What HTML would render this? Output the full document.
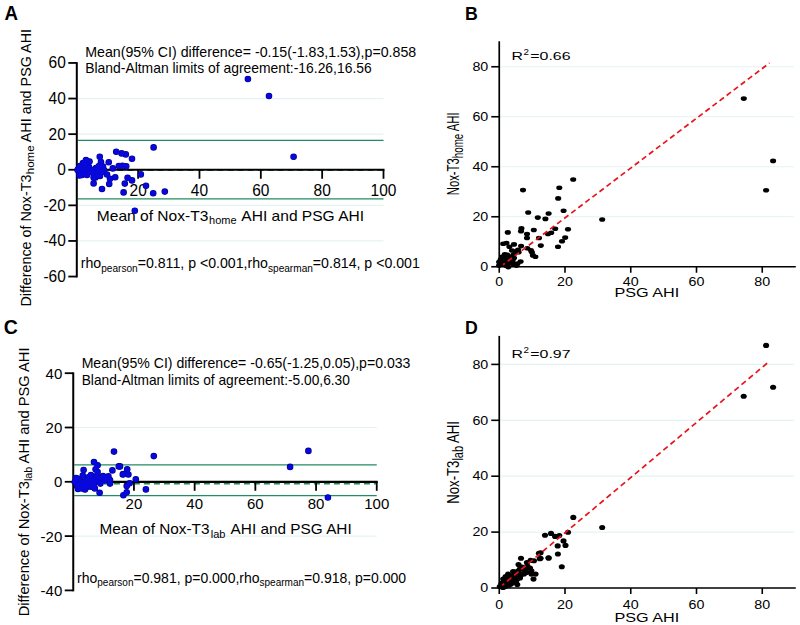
<!DOCTYPE html>
<html><head><meta charset="utf-8"><style>html,body{margin:0;padding:0;background:#fff;width:800px;height:625px;overflow:hidden;}svg{display:block;}text{font-family:"Liberation Sans", sans-serif;}</style></head><body>
<svg width="800" height="625" viewBox="0 0 800 625" font-family="&quot;Liberation Sans&quot;, sans-serif" fill="#000">
<rect width="800" height="625" fill="#fff"/>
<line x1="77.80" y1="98.55" x2="383.50" y2="98.55" stroke="#e3f3f3" stroke-width="1.2" />
<line x1="77.80" y1="134.15" x2="383.50" y2="134.15" stroke="#e3f3f3" stroke-width="1.2" />
<line x1="77.80" y1="205.35" x2="383.50" y2="205.35" stroke="#e3f3f3" stroke-width="1.2" />
<line x1="77.80" y1="240.95" x2="383.50" y2="240.95" stroke="#e3f3f3" stroke-width="1.2" />
<line x1="77.80" y1="140.47" x2="383.50" y2="140.47" stroke="#228c62" stroke-width="1.3" />
<line x1="77.80" y1="198.89" x2="383.50" y2="198.89" stroke="#228c62" stroke-width="1.3" />
<line x1="77.45" y1="170.02" x2="383.50" y2="170.02" stroke="#14905c" stroke-width="2.1" stroke-dasharray="6 4"/>
<line x1="76.80" y1="62.15" x2="76.80" y2="277.45" stroke="#000" stroke-width="2" />
<line x1="75.80" y1="169.75" x2="384.50" y2="169.75" stroke="#000" stroke-width="2.2" />
<line x1="68.30" y1="62.95" x2="76.80" y2="62.95" stroke="#000" stroke-width="1.8" />
<text transform="translate(65.80,68.45) scale(1,1.1)" font-size="15.5" text-anchor="end">60</text>
<line x1="68.30" y1="98.55" x2="76.80" y2="98.55" stroke="#000" stroke-width="1.8" />
<text transform="translate(65.80,104.05) scale(1,1.1)" font-size="15.5" text-anchor="end">40</text>
<line x1="68.30" y1="134.15" x2="76.80" y2="134.15" stroke="#000" stroke-width="1.8" />
<text transform="translate(65.80,139.65) scale(1,1.1)" font-size="15.5" text-anchor="end">20</text>
<line x1="68.30" y1="169.75" x2="76.80" y2="169.75" stroke="#000" stroke-width="1.8" />
<text transform="translate(65.80,175.25) scale(1,1.1)" font-size="15.5" text-anchor="end">0</text>
<line x1="68.30" y1="205.35" x2="76.80" y2="205.35" stroke="#000" stroke-width="1.8" />
<text transform="translate(65.80,210.85) scale(1,1.1)" font-size="15.5" text-anchor="end">-20</text>
<line x1="68.30" y1="240.95" x2="76.80" y2="240.95" stroke="#000" stroke-width="1.8" />
<text transform="translate(65.80,246.45) scale(1,1.1)" font-size="15.5" text-anchor="end">-40</text>
<line x1="68.30" y1="276.55" x2="76.80" y2="276.55" stroke="#000" stroke-width="1.8" />
<text transform="translate(65.80,282.05) scale(1,1.1)" font-size="15.5" text-anchor="end">-60</text>
<line x1="138.14" y1="169.75" x2="138.14" y2="178.75" stroke="#000" stroke-width="1.8" />
<text transform="translate(138.14,196.30) scale(1,1.1)" font-size="15.5" text-anchor="middle">20</text>
<line x1="199.48" y1="169.75" x2="199.48" y2="178.75" stroke="#000" stroke-width="1.8" />
<text transform="translate(199.48,196.30) scale(1,1.1)" font-size="15.5" text-anchor="middle">40</text>
<line x1="260.82" y1="169.75" x2="260.82" y2="178.75" stroke="#000" stroke-width="1.8" />
<text transform="translate(260.82,196.30) scale(1,1.1)" font-size="15.5" text-anchor="middle">60</text>
<line x1="322.16" y1="169.75" x2="322.16" y2="178.75" stroke="#000" stroke-width="1.8" />
<text transform="translate(322.16,196.30) scale(1,1.1)" font-size="15.5" text-anchor="middle">80</text>
<line x1="383.50" y1="169.75" x2="383.50" y2="178.75" stroke="#000" stroke-width="1.8" />
<text transform="translate(383.50,196.30) scale(1,1.1)" font-size="15.5" text-anchor="middle">100</text>
<line x1="74.25" y1="427.50" x2="376.75" y2="427.50" stroke="#e3f3f3" stroke-width="1.2" />
<line x1="74.25" y1="536.10" x2="376.75" y2="536.10" stroke="#e3f3f3" stroke-width="1.2" />
<line x1="74.25" y1="464.90" x2="376.75" y2="464.90" stroke="#228c62" stroke-width="1.3" />
<line x1="74.25" y1="495.57" x2="376.75" y2="495.57" stroke="#228c62" stroke-width="1.3" />
<line x1="73.90" y1="483.56" x2="376.75" y2="483.56" stroke="#14905c" stroke-width="2.1" stroke-dasharray="6 4"/>
<line x1="73.25" y1="372.40" x2="73.25" y2="591.30" stroke="#000" stroke-width="2" />
<line x1="72.25" y1="481.80" x2="377.75" y2="481.80" stroke="#000" stroke-width="2.2" />
<line x1="64.75" y1="373.20" x2="73.25" y2="373.20" stroke="#000" stroke-width="1.8" />
<text transform="translate(62.25,378.60) scale(1,1.0)" font-size="15.0" text-anchor="end">40</text>
<line x1="64.75" y1="427.50" x2="73.25" y2="427.50" stroke="#000" stroke-width="1.8" />
<text transform="translate(62.25,432.90) scale(1,1.0)" font-size="15.0" text-anchor="end">20</text>
<line x1="64.75" y1="481.80" x2="73.25" y2="481.80" stroke="#000" stroke-width="1.8" />
<text transform="translate(62.25,487.20) scale(1,1.0)" font-size="15.0" text-anchor="end">0</text>
<line x1="64.75" y1="536.10" x2="73.25" y2="536.10" stroke="#000" stroke-width="1.8" />
<text transform="translate(62.25,541.50) scale(1,1.0)" font-size="15.0" text-anchor="end">-20</text>
<line x1="64.75" y1="590.40" x2="73.25" y2="590.40" stroke="#000" stroke-width="1.8" />
<text transform="translate(62.25,595.80) scale(1,1.0)" font-size="15.0" text-anchor="end">-40</text>
<line x1="133.95" y1="481.80" x2="133.95" y2="490.80" stroke="#000" stroke-width="1.8" />
<text transform="translate(133.95,508.80) scale(1,1.0)" font-size="15.0" text-anchor="middle">20</text>
<line x1="194.65" y1="481.80" x2="194.65" y2="490.80" stroke="#000" stroke-width="1.8" />
<text transform="translate(194.65,508.80) scale(1,1.0)" font-size="15.0" text-anchor="middle">40</text>
<line x1="255.35" y1="481.80" x2="255.35" y2="490.80" stroke="#000" stroke-width="1.8" />
<text transform="translate(255.35,508.80) scale(1,1.0)" font-size="15.0" text-anchor="middle">60</text>
<line x1="316.05" y1="481.80" x2="316.05" y2="490.80" stroke="#000" stroke-width="1.8" />
<text transform="translate(316.05,508.80) scale(1,1.0)" font-size="15.0" text-anchor="middle">80</text>
<line x1="376.75" y1="481.80" x2="376.75" y2="490.80" stroke="#000" stroke-width="1.8" />
<text transform="translate(376.75,508.80) scale(1,1.0)" font-size="15.0" text-anchor="middle">100</text>
<line x1="500.25" y1="216.75" x2="794.00" y2="216.75" stroke="#e3f3f3" stroke-width="1.2" />
<line x1="500.25" y1="166.75" x2="794.00" y2="166.75" stroke="#e3f3f3" stroke-width="1.2" />
<line x1="500.25" y1="116.75" x2="794.00" y2="116.75" stroke="#e3f3f3" stroke-width="1.2" />
<line x1="500.25" y1="66.75" x2="794.00" y2="66.75" stroke="#e3f3f3" stroke-width="1.2" />
<line x1="499.25" y1="41.25" x2="499.25" y2="267.55" stroke="#000" stroke-width="1.7" />
<line x1="498.45" y1="266.75" x2="795.78" y2="266.75" stroke="#000" stroke-width="1.7" />
<line x1="491.25" y1="266.75" x2="499.25" y2="266.75" stroke="#000" stroke-width="1.6" />
<text transform="translate(488.25,270.95) scale(1.19,1)" font-size="12.0" text-anchor="end" >0</text>
<line x1="499.25" y1="266.75" x2="499.25" y2="272.75" stroke="#000" stroke-width="1.6" />
<text transform="translate(499.25,285.70) scale(1.19,1)" font-size="12.0" text-anchor="middle" >0</text>
<line x1="491.25" y1="216.75" x2="499.25" y2="216.75" stroke="#000" stroke-width="1.6" />
<text transform="translate(488.25,220.95) scale(1.19,1)" font-size="12.0" text-anchor="end" >20</text>
<line x1="565.00" y1="266.75" x2="565.00" y2="272.75" stroke="#000" stroke-width="1.6" />
<text transform="translate(565.00,285.70) scale(1.19,1)" font-size="12.0" text-anchor="middle" >20</text>
<line x1="491.25" y1="166.75" x2="499.25" y2="166.75" stroke="#000" stroke-width="1.6" />
<text transform="translate(488.25,170.95) scale(1.19,1)" font-size="12.0" text-anchor="end" >40</text>
<line x1="630.75" y1="266.75" x2="630.75" y2="272.75" stroke="#000" stroke-width="1.6" />
<text transform="translate(630.75,285.70) scale(1.19,1)" font-size="12.0" text-anchor="middle" >40</text>
<line x1="491.25" y1="116.75" x2="499.25" y2="116.75" stroke="#000" stroke-width="1.6" />
<text transform="translate(488.25,120.95) scale(1.19,1)" font-size="12.0" text-anchor="end" >60</text>
<line x1="696.50" y1="266.75" x2="696.50" y2="272.75" stroke="#000" stroke-width="1.6" />
<text transform="translate(696.50,285.70) scale(1.19,1)" font-size="12.0" text-anchor="middle" >60</text>
<line x1="491.25" y1="66.75" x2="499.25" y2="66.75" stroke="#000" stroke-width="1.6" />
<text transform="translate(488.25,70.95) scale(1.19,1)" font-size="12.0" text-anchor="end" >80</text>
<line x1="762.25" y1="266.75" x2="762.25" y2="272.75" stroke="#000" stroke-width="1.6" />
<text transform="translate(762.25,285.70) scale(1.19,1)" font-size="12.0" text-anchor="middle" >80</text>
<line x1="500.25" y1="532.10" x2="794.00" y2="532.10" stroke="#e3f3f3" stroke-width="1.2" />
<line x1="500.25" y1="476.20" x2="794.00" y2="476.20" stroke="#e3f3f3" stroke-width="1.2" />
<line x1="500.25" y1="420.30" x2="794.00" y2="420.30" stroke="#e3f3f3" stroke-width="1.2" />
<line x1="500.25" y1="364.40" x2="794.00" y2="364.40" stroke="#e3f3f3" stroke-width="1.2" />
<line x1="499.25" y1="335.89" x2="499.25" y2="588.80" stroke="#000" stroke-width="1.7" />
<line x1="498.45" y1="588.00" x2="795.78" y2="588.00" stroke="#000" stroke-width="1.7" />
<line x1="491.25" y1="588.00" x2="499.25" y2="588.00" stroke="#000" stroke-width="1.6" />
<text transform="translate(488.25,592.20) scale(1.19,1)" font-size="12.0" text-anchor="end" >0</text>
<line x1="499.25" y1="588.00" x2="499.25" y2="594.00" stroke="#000" stroke-width="1.6" />
<text transform="translate(499.25,609.40) scale(1.19,1)" font-size="12.0" text-anchor="middle" >0</text>
<line x1="491.25" y1="532.10" x2="499.25" y2="532.10" stroke="#000" stroke-width="1.6" />
<text transform="translate(488.25,536.30) scale(1.19,1)" font-size="12.0" text-anchor="end" >20</text>
<line x1="565.00" y1="588.00" x2="565.00" y2="594.00" stroke="#000" stroke-width="1.6" />
<text transform="translate(565.00,609.40) scale(1.19,1)" font-size="12.0" text-anchor="middle" >20</text>
<line x1="491.25" y1="476.20" x2="499.25" y2="476.20" stroke="#000" stroke-width="1.6" />
<text transform="translate(488.25,480.40) scale(1.19,1)" font-size="12.0" text-anchor="end" >40</text>
<line x1="630.75" y1="588.00" x2="630.75" y2="594.00" stroke="#000" stroke-width="1.6" />
<text transform="translate(630.75,609.40) scale(1.19,1)" font-size="12.0" text-anchor="middle" >40</text>
<line x1="491.25" y1="420.30" x2="499.25" y2="420.30" stroke="#000" stroke-width="1.6" />
<text transform="translate(488.25,424.50) scale(1.19,1)" font-size="12.0" text-anchor="end" >60</text>
<line x1="696.50" y1="588.00" x2="696.50" y2="594.00" stroke="#000" stroke-width="1.6" />
<text transform="translate(696.50,609.40) scale(1.19,1)" font-size="12.0" text-anchor="middle" >60</text>
<line x1="491.25" y1="364.40" x2="499.25" y2="364.40" stroke="#000" stroke-width="1.6" />
<text transform="translate(488.25,368.60) scale(1.19,1)" font-size="12.0" text-anchor="end" >80</text>
<line x1="762.25" y1="588.00" x2="762.25" y2="594.00" stroke="#000" stroke-width="1.6" />
<text transform="translate(762.25,609.40) scale(1.19,1)" font-size="12.0" text-anchor="middle" >80</text>
<text transform="translate(4.6,19.6) scale(0.97,1)" font-size="19.3" font-weight="bold">A</text>
<text x="3.70" y="333.80" font-size="19.5" text-anchor="start" font-weight="bold" >C</text>
<text transform="translate(464.9,19.5) scale(0.95,1)" font-size="18.7" font-weight="bold">B</text>
<text transform="translate(464.9,333.9) scale(0.95,1)" font-size="18.7" font-weight="bold">D</text>
<text x="85.24" y="56.50" font-size="14.2" text-anchor="start" font-weight="normal" >Mean(95% CI) difference= -0.15(-1.83,1.53),p=0.858</text>
<text x="85.26" y="73.40" font-size="13.9" text-anchor="start" font-weight="normal" >Bland-Altman limits of agreement:-16.26,16.56</text>
<text x="96.82" y="221.20" font-size="15.55" text-anchor="start" font-weight="normal" >Mean of Nox-T3<tspan font-size="11" dy="3.2" dx="0.8">home</tspan><tspan dy="-3.2" dx="1.3"> AHI and PSG AHI</tspan></text>
<text x="80.77" y="268.00" font-size="14.15" text-anchor="start" font-weight="normal" >rho<tspan font-size="10.1" dy="3.5">pearson</tspan><tspan dy="-3.5">=0.811, p &lt;0.001,rho</tspan><tspan font-size="10.1" dy="3.5">spearman</tspan><tspan dy="-3.5">=0.814, p &lt;0.001</tspan></text>
<text transform="translate(30.8,167.8) rotate(-90)" font-size="14.35" text-anchor="middle">Difference of Nox-T3<tspan font-size="11.5" dy="3.5" dx="0.3">home</tspan><tspan dy="-3.5"> AHI and PSG AHI</tspan></text>
<text x="81.64" y="368.10" font-size="14.1" text-anchor="start" font-weight="normal" >Mean(95% CI) difference= -0.65(-1.25,0.05),p=0.033</text>
<text x="81.67" y="384.80" font-size="13.75" text-anchor="start" font-weight="normal" >Bland-Altman limits of agreement:-5.00,6.30</text>
<text x="99.49" y="534.30" font-size="15.35" text-anchor="start" font-weight="normal" >Mean of Nox-T3<tspan font-size="11" dy="3.2" dx="1.2">lab</tspan><tspan dy="-3.2" dx="1.8"> AHI and PSG AHI</tspan></text>
<text x="77.08" y="582.50" font-size="14" text-anchor="start" font-weight="normal" >rho<tspan font-size="10" dy="3.5">pearson</tspan><tspan dy="-3.5">=0.981, p=0.000,rho</tspan><tspan font-size="10" dy="3.5">spearman</tspan><tspan dy="-3.5">=0.918, p=0.000</tspan></text>
<text transform="translate(28.9,481.9) rotate(-90)" font-size="14.7" text-anchor="middle">Difference of Nox-T3<tspan font-size="10.8" dy="3.5">lab</tspan><tspan dy="-3.5"> AHI and PSG AHI</tspan></text>
<text transform="translate(511.50,60.10) scale(1.34,1)" font-size="11.8" text-anchor="start" >R</text>
<text transform="translate(523.60,54.50) scale(1.12,1)" font-size="8.8" text-anchor="start" >2</text>
<text transform="translate(530.24,60.10) scale(1.35,1)" font-size="11.8" text-anchor="start" >=0.66</text>
<text transform="translate(614.39,296.80) scale(1.34,1)" font-size="12.1" text-anchor="start" >PSG AHI</text>
<text transform="translate(458.8,153.8) scale(1.43,1) rotate(-90)" font-size="11.3" text-anchor="middle">Nox-T3<tspan font-size="9.8" dy="2.8">home</tspan><tspan dy="-2.8"> AHI</tspan></text>
<text transform="translate(511.50,358.10) scale(1.34,1)" font-size="11.8" text-anchor="start" >R</text>
<text transform="translate(523.60,352.50) scale(1.12,1)" font-size="8.8" text-anchor="start" >2</text>
<text transform="translate(530.24,358.10) scale(1.35,1)" font-size="11.8" text-anchor="start" >=0.97</text>
<text transform="translate(614.39,621.50) scale(1.34,1)" font-size="12.1" text-anchor="start" >PSG AHI</text>
<text transform="translate(458.6,462.4) scale(1.28,1) rotate(-90)" font-size="13.2" text-anchor="middle">Nox-T3<tspan font-size="11" dy="3.2">lab</tspan><tspan dy="-3.2"> AHI</tspan></text>
<g fill="#00008c">
<circle cx="78" cy="169.5" r="3.3"/>
<circle cx="80" cy="166" r="3.3"/>
<circle cx="80" cy="172" r="3.3"/>
<circle cx="83" cy="163" r="3.3"/>
<circle cx="83" cy="168" r="3.3"/>
<circle cx="83" cy="174" r="3.3"/>
<circle cx="86" cy="160" r="3.3"/>
<circle cx="86" cy="165" r="3.3"/>
<circle cx="86" cy="170" r="3.3"/>
<circle cx="87" cy="175" r="3.3"/>
<circle cx="89.5" cy="161.5" r="3.3"/>
<circle cx="89" cy="167" r="3.3"/>
<circle cx="90" cy="172" r="3.3"/>
<circle cx="93" cy="170" r="3.3"/>
<circle cx="94" cy="174.5" r="3.3"/>
<circle cx="96" cy="168" r="3.3"/>
<circle cx="97" cy="173" r="3.3"/>
<circle cx="99" cy="166" r="3.3"/>
<circle cx="100" cy="170" r="3.3"/>
<circle cx="100" cy="176" r="3.3"/>
<circle cx="102" cy="172" r="3.3"/>
<circle cx="101" cy="162" r="3.3"/>
<circle cx="103" cy="166.5" r="3.3"/>
<circle cx="104" cy="170" r="3.3"/>
<circle cx="99.75" cy="156.75" r="3.3"/>
<circle cx="95.5" cy="177.5" r="3.3"/>
<circle cx="93.6" cy="177.6" r="3.3"/>
<circle cx="97.6" cy="174.8" r="3.3"/>
<circle cx="82" cy="175" r="3.3"/>
<circle cx="77.6" cy="170" r="3.3"/>
<circle cx="79.5" cy="175.5" r="3.3"/>
<circle cx="108.75" cy="162.25" r="3.3"/>
<circle cx="112.8" cy="168.4" r="3.3"/>
<circle cx="107" cy="174.5" r="3.3"/>
<circle cx="110" cy="178.8" r="3.3"/>
<circle cx="109.2" cy="184" r="3.3"/>
<circle cx="115.2" cy="177.2" r="3.3"/>
<circle cx="93.6" cy="183.4" r="3.3"/>
<circle cx="102" cy="189" r="3.3"/>
<circle cx="116.2" cy="151.8" r="3.3"/>
<circle cx="121.6" cy="153.4" r="3.3"/>
<circle cx="125.8" cy="154.4" r="3.3"/>
<circle cx="132" cy="158.8" r="3.3"/>
<circle cx="118.8" cy="166" r="3.3"/>
<circle cx="122.4" cy="165.8" r="3.3"/>
<circle cx="126.2" cy="166.2" r="3.3"/>
<circle cx="127.6" cy="177.8" r="3.3"/>
<circle cx="132" cy="180.4" r="3.3"/>
<circle cx="124.8" cy="183.6" r="3.3"/>
<circle cx="123.6" cy="192.4" r="3.3"/>
<circle cx="140.8" cy="174.4" r="3.3"/>
<circle cx="146" cy="185.8" r="3.3"/>
<circle cx="153.2" cy="193.2" r="3.3"/>
<circle cx="164.8" cy="191.6" r="3.3"/>
<circle cx="134.8" cy="210.8" r="3.3"/>
<circle cx="153.6" cy="147.4" r="3.3"/>
<circle cx="247.9" cy="79" r="3.3"/>
<circle cx="269" cy="96" r="3.3"/>
<circle cx="293.6" cy="156.7" r="3.3"/>
<circle cx="114" cy="451.6" r="3.3"/>
<circle cx="94" cy="462" r="3.3"/>
<circle cx="97.6" cy="465.2" r="3.3"/>
<circle cx="95.6" cy="469.2" r="3.3"/>
<circle cx="97.6" cy="472" r="3.3"/>
<circle cx="83.6" cy="470" r="3.3"/>
<circle cx="118.8" cy="466.4" r="3.3"/>
<circle cx="112.4" cy="470.4" r="3.3"/>
<circle cx="122.8" cy="474.4" r="3.3"/>
<circle cx="127.2" cy="469.3" r="3.3"/>
<circle cx="123.4" cy="474.1" r="3.3"/>
<circle cx="128.4" cy="474.5" r="3.3"/>
<circle cx="108.4" cy="476.4" r="3.3"/>
<circle cx="110" cy="483.6" r="3.3"/>
<circle cx="104.4" cy="480.4" r="3.3"/>
<circle cx="100.4" cy="483.6" r="3.3"/>
<circle cx="94.8" cy="488.4" r="3.3"/>
<circle cx="99.6" cy="492.8" r="3.3"/>
<circle cx="123.4" cy="495.2" r="3.3"/>
<circle cx="126.7" cy="492.3" r="3.3"/>
<circle cx="126.7" cy="486.1" r="3.3"/>
<circle cx="129.6" cy="483.2" r="3.3"/>
<circle cx="135.8" cy="479.3" r="3.3"/>
<circle cx="145.9" cy="489.4" r="3.3"/>
<circle cx="153.8" cy="456.1" r="3.3"/>
<circle cx="120" cy="466.4" r="3.3"/>
<circle cx="74.8" cy="482" r="3.3"/>
<circle cx="78" cy="478.8" r="3.3"/>
<circle cx="79.6" cy="485.2" r="3.3"/>
<circle cx="82.8" cy="475.6" r="3.3"/>
<circle cx="84.4" cy="482" r="3.3"/>
<circle cx="86" cy="487.6" r="3.3"/>
<circle cx="82" cy="488.4" r="3.3"/>
<circle cx="89.2" cy="483.6" r="3.3"/>
<circle cx="88.4" cy="477.2" r="3.3"/>
<circle cx="92.4" cy="478.8" r="3.3"/>
<circle cx="94" cy="483.6" r="3.3"/>
<circle cx="96.4" cy="476.4" r="3.3"/>
<circle cx="90.8" cy="486.8" r="3.3"/>
<circle cx="98" cy="480.4" r="3.3"/>
<circle cx="77" cy="486" r="3.3"/>
<circle cx="80" cy="481" r="3.3"/>
<circle cx="87" cy="480" r="3.3"/>
<circle cx="91" cy="475" r="3.3"/>
<circle cx="76" cy="478" r="3.3"/>
<circle cx="80" cy="484" r="3.3"/>
<circle cx="84" cy="486" r="3.3"/>
<circle cx="88" cy="485" r="3.3"/>
<circle cx="86" cy="481" r="3.3"/>
<circle cx="90" cy="481" r="3.3"/>
<circle cx="93" cy="486" r="3.3"/>
<circle cx="78" cy="489" r="3.3"/>
<circle cx="85" cy="489.5" r="3.3"/>
<circle cx="95" cy="481" r="3.3"/>
<circle cx="100" cy="478" r="3.3"/>
<circle cx="103" cy="476" r="3.3"/>
<circle cx="107" cy="478" r="3.3"/>
<circle cx="110" cy="480" r="3.3"/>
<circle cx="308.4" cy="450.9" r="3.3"/>
<circle cx="290.1" cy="466.9" r="3.3"/>
<circle cx="327.9" cy="497.5" r="3.3"/>
</g><g fill="#0808dc">
<circle cx="78" cy="169.5" r="2.7"/>
<circle cx="80" cy="166" r="2.7"/>
<circle cx="80" cy="172" r="2.7"/>
<circle cx="83" cy="163" r="2.7"/>
<circle cx="83" cy="168" r="2.7"/>
<circle cx="83" cy="174" r="2.7"/>
<circle cx="86" cy="160" r="2.7"/>
<circle cx="86" cy="165" r="2.7"/>
<circle cx="86" cy="170" r="2.7"/>
<circle cx="87" cy="175" r="2.7"/>
<circle cx="89.5" cy="161.5" r="2.7"/>
<circle cx="89" cy="167" r="2.7"/>
<circle cx="90" cy="172" r="2.7"/>
<circle cx="93" cy="170" r="2.7"/>
<circle cx="94" cy="174.5" r="2.7"/>
<circle cx="96" cy="168" r="2.7"/>
<circle cx="97" cy="173" r="2.7"/>
<circle cx="99" cy="166" r="2.7"/>
<circle cx="100" cy="170" r="2.7"/>
<circle cx="100" cy="176" r="2.7"/>
<circle cx="102" cy="172" r="2.7"/>
<circle cx="101" cy="162" r="2.7"/>
<circle cx="103" cy="166.5" r="2.7"/>
<circle cx="104" cy="170" r="2.7"/>
<circle cx="99.75" cy="156.75" r="2.7"/>
<circle cx="95.5" cy="177.5" r="2.7"/>
<circle cx="93.6" cy="177.6" r="2.7"/>
<circle cx="97.6" cy="174.8" r="2.7"/>
<circle cx="82" cy="175" r="2.7"/>
<circle cx="77.6" cy="170" r="2.7"/>
<circle cx="79.5" cy="175.5" r="2.7"/>
<circle cx="108.75" cy="162.25" r="2.7"/>
<circle cx="112.8" cy="168.4" r="2.7"/>
<circle cx="107" cy="174.5" r="2.7"/>
<circle cx="110" cy="178.8" r="2.7"/>
<circle cx="109.2" cy="184" r="2.7"/>
<circle cx="115.2" cy="177.2" r="2.7"/>
<circle cx="93.6" cy="183.4" r="2.7"/>
<circle cx="102" cy="189" r="2.7"/>
<circle cx="116.2" cy="151.8" r="2.7"/>
<circle cx="121.6" cy="153.4" r="2.7"/>
<circle cx="125.8" cy="154.4" r="2.7"/>
<circle cx="132" cy="158.8" r="2.7"/>
<circle cx="118.8" cy="166" r="2.7"/>
<circle cx="122.4" cy="165.8" r="2.7"/>
<circle cx="126.2" cy="166.2" r="2.7"/>
<circle cx="127.6" cy="177.8" r="2.7"/>
<circle cx="132" cy="180.4" r="2.7"/>
<circle cx="124.8" cy="183.6" r="2.7"/>
<circle cx="123.6" cy="192.4" r="2.7"/>
<circle cx="140.8" cy="174.4" r="2.7"/>
<circle cx="146" cy="185.8" r="2.7"/>
<circle cx="153.2" cy="193.2" r="2.7"/>
<circle cx="164.8" cy="191.6" r="2.7"/>
<circle cx="134.8" cy="210.8" r="2.7"/>
<circle cx="153.6" cy="147.4" r="2.7"/>
<circle cx="247.9" cy="79" r="2.7"/>
<circle cx="269" cy="96" r="2.7"/>
<circle cx="293.6" cy="156.7" r="2.7"/>
<circle cx="114" cy="451.6" r="2.7"/>
<circle cx="94" cy="462" r="2.7"/>
<circle cx="97.6" cy="465.2" r="2.7"/>
<circle cx="95.6" cy="469.2" r="2.7"/>
<circle cx="97.6" cy="472" r="2.7"/>
<circle cx="83.6" cy="470" r="2.7"/>
<circle cx="118.8" cy="466.4" r="2.7"/>
<circle cx="112.4" cy="470.4" r="2.7"/>
<circle cx="122.8" cy="474.4" r="2.7"/>
<circle cx="127.2" cy="469.3" r="2.7"/>
<circle cx="123.4" cy="474.1" r="2.7"/>
<circle cx="128.4" cy="474.5" r="2.7"/>
<circle cx="108.4" cy="476.4" r="2.7"/>
<circle cx="110" cy="483.6" r="2.7"/>
<circle cx="104.4" cy="480.4" r="2.7"/>
<circle cx="100.4" cy="483.6" r="2.7"/>
<circle cx="94.8" cy="488.4" r="2.7"/>
<circle cx="99.6" cy="492.8" r="2.7"/>
<circle cx="123.4" cy="495.2" r="2.7"/>
<circle cx="126.7" cy="492.3" r="2.7"/>
<circle cx="126.7" cy="486.1" r="2.7"/>
<circle cx="129.6" cy="483.2" r="2.7"/>
<circle cx="135.8" cy="479.3" r="2.7"/>
<circle cx="145.9" cy="489.4" r="2.7"/>
<circle cx="153.8" cy="456.1" r="2.7"/>
<circle cx="120" cy="466.4" r="2.7"/>
<circle cx="74.8" cy="482" r="2.7"/>
<circle cx="78" cy="478.8" r="2.7"/>
<circle cx="79.6" cy="485.2" r="2.7"/>
<circle cx="82.8" cy="475.6" r="2.7"/>
<circle cx="84.4" cy="482" r="2.7"/>
<circle cx="86" cy="487.6" r="2.7"/>
<circle cx="82" cy="488.4" r="2.7"/>
<circle cx="89.2" cy="483.6" r="2.7"/>
<circle cx="88.4" cy="477.2" r="2.7"/>
<circle cx="92.4" cy="478.8" r="2.7"/>
<circle cx="94" cy="483.6" r="2.7"/>
<circle cx="96.4" cy="476.4" r="2.7"/>
<circle cx="90.8" cy="486.8" r="2.7"/>
<circle cx="98" cy="480.4" r="2.7"/>
<circle cx="77" cy="486" r="2.7"/>
<circle cx="80" cy="481" r="2.7"/>
<circle cx="87" cy="480" r="2.7"/>
<circle cx="91" cy="475" r="2.7"/>
<circle cx="76" cy="478" r="2.7"/>
<circle cx="80" cy="484" r="2.7"/>
<circle cx="84" cy="486" r="2.7"/>
<circle cx="88" cy="485" r="2.7"/>
<circle cx="86" cy="481" r="2.7"/>
<circle cx="90" cy="481" r="2.7"/>
<circle cx="93" cy="486" r="2.7"/>
<circle cx="78" cy="489" r="2.7"/>
<circle cx="85" cy="489.5" r="2.7"/>
<circle cx="95" cy="481" r="2.7"/>
<circle cx="100" cy="478" r="2.7"/>
<circle cx="103" cy="476" r="2.7"/>
<circle cx="107" cy="478" r="2.7"/>
<circle cx="110" cy="480" r="2.7"/>
<circle cx="308.4" cy="450.9" r="2.7"/>
<circle cx="290.1" cy="466.9" r="2.7"/>
<circle cx="327.9" cy="497.5" r="2.7"/>
</g><g fill="#000">
<ellipse cx="507.8" cy="232.4" rx="3.05" ry="2.3"/>
<ellipse cx="521.4" cy="228.4" rx="3.05" ry="2.3"/>
<ellipse cx="521" cy="231.2" rx="3.05" ry="2.3"/>
<ellipse cx="533.8" cy="230" rx="3.05" ry="2.3"/>
<ellipse cx="527" cy="234" rx="3.05" ry="2.3"/>
<ellipse cx="527" cy="238" rx="3.05" ry="2.3"/>
<ellipse cx="539" cy="238" rx="3.05" ry="2.3"/>
<ellipse cx="548" cy="234" rx="3.05" ry="2.3"/>
<ellipse cx="551.2" cy="232.8" rx="3.05" ry="2.3"/>
<ellipse cx="555.2" cy="228.8" rx="3.05" ry="2.3"/>
<ellipse cx="568" cy="229.2" rx="3.05" ry="2.3"/>
<ellipse cx="565.2" cy="237.6" rx="3.05" ry="2.3"/>
<ellipse cx="562" cy="241.2" rx="3.05" ry="2.3"/>
<ellipse cx="558" cy="246.8" rx="3.05" ry="2.3"/>
<ellipse cx="540.8" cy="245.6" rx="3.05" ry="2.3"/>
<ellipse cx="545.4" cy="218.9" rx="3.05" ry="2.3"/>
<ellipse cx="573.2" cy="179.5" rx="3.05" ry="2.3"/>
<ellipse cx="559.3" cy="187.8" rx="3.05" ry="2.3"/>
<ellipse cx="523" cy="190.1" rx="3.05" ry="2.3"/>
<ellipse cx="558.2" cy="198.4" rx="3.05" ry="2.3"/>
<ellipse cx="528.2" cy="212.5" rx="3.05" ry="2.3"/>
<ellipse cx="548.6" cy="213.5" rx="3.05" ry="2.3"/>
<ellipse cx="563.6" cy="210.8" rx="3.05" ry="2.3"/>
<ellipse cx="537.8" cy="217.6" rx="3.05" ry="2.3"/>
<ellipse cx="602.2" cy="219.5" rx="3.05" ry="2.3"/>
<ellipse cx="743.8" cy="98.6" rx="3.05" ry="2.3"/>
<ellipse cx="773.1" cy="160.9" rx="3.05" ry="2.3"/>
<ellipse cx="766.1" cy="190.3" rx="3.05" ry="2.3"/>
<ellipse cx="503.2" cy="243.8" rx="3.05" ry="2.3"/>
<ellipse cx="506.5" cy="243.1" rx="3.05" ry="2.3"/>
<ellipse cx="509.4" cy="246.7" rx="3.05" ry="2.3"/>
<ellipse cx="514" cy="244.4" rx="3.05" ry="2.3"/>
<ellipse cx="521.1" cy="246.1" rx="3.05" ry="2.3"/>
<ellipse cx="518.1" cy="249.7" rx="3.05" ry="2.3"/>
<ellipse cx="515.5" cy="251.8" rx="3.05" ry="2.3"/>
<ellipse cx="518.6" cy="252.3" rx="3.05" ry="2.3"/>
<ellipse cx="513.5" cy="254.8" rx="3.05" ry="2.3"/>
<ellipse cx="510.9" cy="256.9" rx="3.05" ry="2.3"/>
<ellipse cx="507.3" cy="254.8" rx="3.05" ry="2.3"/>
<ellipse cx="504.8" cy="254.3" rx="3.05" ry="2.3"/>
<ellipse cx="502.2" cy="256.9" rx="3.05" ry="2.3"/>
<ellipse cx="500.7" cy="259.5" rx="3.05" ry="2.3"/>
<ellipse cx="503.2" cy="261.5" rx="3.05" ry="2.3"/>
<ellipse cx="506.8" cy="260.5" rx="3.05" ry="2.3"/>
<ellipse cx="509.4" cy="263" rx="3.05" ry="2.3"/>
<ellipse cx="505.8" cy="265.6" rx="3.05" ry="2.3"/>
<ellipse cx="501.7" cy="264.6" rx="3.05" ry="2.3"/>
<ellipse cx="499.1" cy="262" rx="3.05" ry="2.3"/>
<ellipse cx="499.1" cy="265.6" rx="3.05" ry="2.3"/>
<ellipse cx="508.3" cy="267.1" rx="3.05" ry="2.3"/>
<ellipse cx="520.6" cy="261.5" rx="3.05" ry="2.3"/>
<ellipse cx="517.6" cy="263.6" rx="3.05" ry="2.3"/>
<ellipse cx="516.5" cy="265.6" rx="3.05" ry="2.3"/>
<ellipse cx="527.3" cy="248.2" rx="3.05" ry="2.3"/>
<ellipse cx="530.9" cy="250.2" rx="3.05" ry="2.3"/>
<ellipse cx="531.9" cy="252.3" rx="3.05" ry="2.3"/>
<ellipse cx="532.9" cy="255.4" rx="3.05" ry="2.3"/>
<ellipse cx="535.4" cy="256.8" rx="3.05" ry="2.3"/>
<ellipse cx="512.6" cy="260.8" rx="3.05" ry="2.3"/>
<ellipse cx="514" cy="258" rx="3.05" ry="2.3"/>
<ellipse cx="511" cy="261" rx="3.05" ry="2.3"/>
<ellipse cx="506" cy="257.5" rx="3.05" ry="2.3"/>
<ellipse cx="509" cy="258.5" rx="3.05" ry="2.3"/>
<ellipse cx="511.5" cy="262.5" rx="3.05" ry="2.3"/>
<ellipse cx="513" cy="264" rx="3.05" ry="2.3"/>
<ellipse cx="507" cy="262.5" rx="3.05" ry="2.3"/>
<ellipse cx="504" cy="263" rx="3.05" ry="2.3"/>
<ellipse cx="512" cy="250.5" rx="3.05" ry="2.3"/>
<ellipse cx="521" cy="558.3" rx="3.05" ry="2.55"/>
<ellipse cx="538.9" cy="553.3" rx="3.05" ry="2.55"/>
<ellipse cx="539.8" cy="558.7" rx="3.05" ry="2.55"/>
<ellipse cx="548.5" cy="557.9" rx="3.05" ry="2.55"/>
<ellipse cx="530.6" cy="560.4" rx="3.05" ry="2.55"/>
<ellipse cx="534" cy="560.8" rx="3.05" ry="2.55"/>
<ellipse cx="526.9" cy="562.5" rx="3.05" ry="2.55"/>
<ellipse cx="518.5" cy="564.5" rx="3.05" ry="2.55"/>
<ellipse cx="527.3" cy="565.8" rx="3.05" ry="2.55"/>
<ellipse cx="519.8" cy="569.1" rx="3.05" ry="2.55"/>
<ellipse cx="524" cy="570" rx="3.05" ry="2.55"/>
<ellipse cx="526.4" cy="572.4" rx="3.05" ry="2.55"/>
<ellipse cx="531.4" cy="570.8" rx="3.05" ry="2.55"/>
<ellipse cx="535.6" cy="574.1" rx="3.05" ry="2.55"/>
<ellipse cx="531.4" cy="574.1" rx="3.05" ry="2.55"/>
<ellipse cx="533.5" cy="579.1" rx="3.05" ry="2.55"/>
<ellipse cx="513.1" cy="571.6" rx="3.05" ry="2.55"/>
<ellipse cx="508.1" cy="574.1" rx="3.05" ry="2.55"/>
<ellipse cx="505.6" cy="576.6" rx="3.05" ry="2.55"/>
<ellipse cx="511.5" cy="576.6" rx="3.05" ry="2.55"/>
<ellipse cx="517.3" cy="579.1" rx="3.05" ry="2.55"/>
<ellipse cx="517.3" cy="584.5" rx="3.05" ry="2.55"/>
<ellipse cx="513.1" cy="582.4" rx="3.05" ry="2.55"/>
<ellipse cx="509" cy="580.8" rx="3.05" ry="2.55"/>
<ellipse cx="503.2" cy="579.1" rx="3.05" ry="2.55"/>
<ellipse cx="501.5" cy="583.3" rx="3.05" ry="2.55"/>
<ellipse cx="504.8" cy="586.6" rx="3.05" ry="2.55"/>
<ellipse cx="499.8" cy="586.6" rx="3.05" ry="2.55"/>
<ellipse cx="509" cy="585.3" rx="3.05" ry="2.55"/>
<ellipse cx="514.8" cy="575" rx="3.05" ry="2.55"/>
<ellipse cx="519" cy="573.3" rx="3.05" ry="2.55"/>
<ellipse cx="573.3" cy="517.4" rx="3.05" ry="2.55"/>
<ellipse cx="602.2" cy="527.5" rx="3.05" ry="2.55"/>
<ellipse cx="568" cy="532.2" rx="3.05" ry="2.55"/>
<ellipse cx="545" cy="535.3" rx="3.05" ry="2.55"/>
<ellipse cx="551" cy="533.4" rx="3.05" ry="2.55"/>
<ellipse cx="555.1" cy="536.4" rx="3.05" ry="2.55"/>
<ellipse cx="559.3" cy="535.6" rx="3.05" ry="2.55"/>
<ellipse cx="563.5" cy="540.9" rx="3.05" ry="2.55"/>
<ellipse cx="565.5" cy="545.4" rx="3.05" ry="2.55"/>
<ellipse cx="557.7" cy="545.9" rx="3.05" ry="2.55"/>
<ellipse cx="557.9" cy="554" rx="3.05" ry="2.55"/>
<ellipse cx="548.7" cy="558" rx="3.05" ry="2.55"/>
<ellipse cx="540.6" cy="552.7" rx="3.05" ry="2.55"/>
<ellipse cx="540.6" cy="558.3" rx="3.05" ry="2.55"/>
<ellipse cx="561.8" cy="566.7" rx="3.05" ry="2.55"/>
<ellipse cx="766.1" cy="345.4" rx="3.05" ry="2.55"/>
<ellipse cx="773.1" cy="387.2" rx="3.05" ry="2.55"/>
<ellipse cx="743.7" cy="396.2" rx="3.05" ry="2.55"/>
<ellipse cx="502" cy="584" rx="3.05" ry="2.55"/>
<ellipse cx="505" cy="581" rx="3.05" ry="2.55"/>
<ellipse cx="507" cy="583" rx="3.05" ry="2.55"/>
<ellipse cx="510" cy="578" rx="3.05" ry="2.55"/>
<ellipse cx="512" cy="580" rx="3.05" ry="2.55"/>
<ellipse cx="506" cy="586" rx="3.05" ry="2.55"/>
<ellipse cx="503" cy="587.5" rx="3.05" ry="2.55"/>
<ellipse cx="515" cy="577" rx="3.05" ry="2.55"/>
<ellipse cx="511" cy="584" rx="3.05" ry="2.55"/>
<ellipse cx="516" cy="582" rx="3.05" ry="2.55"/>
<ellipse cx="520" cy="578" rx="3.05" ry="2.55"/>
<ellipse cx="521" cy="575" rx="3.05" ry="2.55"/>
<ellipse cx="524" cy="574" rx="3.05" ry="2.55"/>
<ellipse cx="518" cy="571" rx="3.05" ry="2.55"/>
<ellipse cx="522" cy="567" rx="3.05" ry="2.55"/>
<ellipse cx="514" cy="572" rx="3.05" ry="2.55"/>
<ellipse cx="527" cy="568" rx="3.05" ry="2.55"/>
<ellipse cx="530" cy="568" rx="3.05" ry="2.55"/>
</g>
<line x1="503" y1="264.8" x2="769.5" y2="63" stroke="#e8141c" stroke-width="1.7" stroke-dasharray="5.4 3.46" stroke-dashoffset="3.0"/>
<line x1="502.2" y1="585.4" x2="769.3" y2="361.4" stroke="#e8141c" stroke-width="1.7" stroke-dasharray="5.6 3.67" stroke-dashoffset="2.84"/>
</svg>
</body></html>
